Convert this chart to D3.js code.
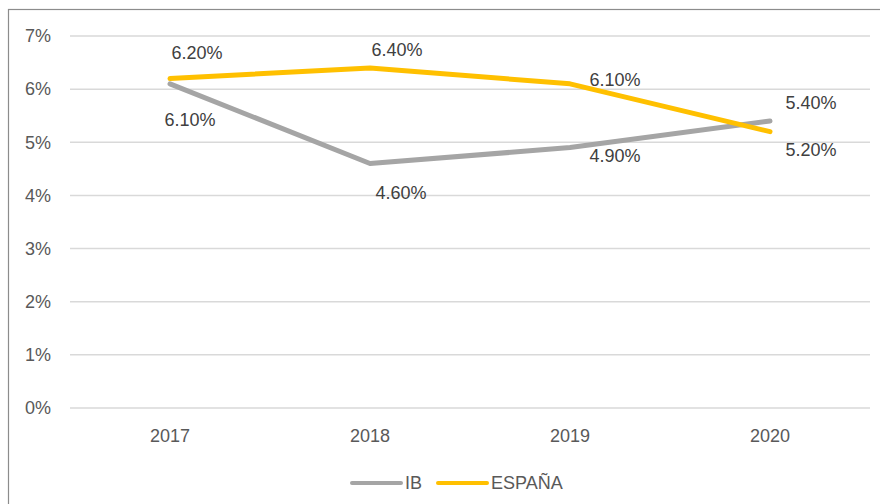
<!DOCTYPE html>
<html lang="es">
<head>
<meta charset="UTF-8">
<title>IB vs ESPAÑA</title>
<script src="https://d3js.org/d3.v7.min.js"></script>
<style>
    body { margin: 0; background: #fff; }
    svg { display: block; font-family: "Liberation Sans", Arial, sans-serif; }
    .grid line { stroke: #d9d9d9; stroke-width: 1.5px; }
    .tick-label { fill: #595959; font-size: 18px; }
    .data-label { fill: #404040; font-size: 18px; }
    .legend text { fill: #595959; font-size: 18px; }
</style>
</head>
<body>
<svg id="chart" width="880" height="504"></svg>
<script>
    // data
    const years = ["2017", "2018", "2019", "2020"];
    const ib = [6.1, 4.6, 4.9, 5.4];
    const espana = [6.2, 6.4, 6.1, 5.2];
    const yTicks = [0, 1, 2, 3, 4, 5, 6, 7];

    // label offsets (dx, dy) from each point
    const ibLabelPos = [[20, 36], [31, 29], [45, 8], [41, -18]];
    const espLabelPos = [[27, -26], [27, -18], [45, -4], [41, 18]];

    const series = [
        { name: "IB", values: ib, color: "#a5a5a5", labels: ibLabelPos },
        { name: "ESPAÑA", values: espana, color: "#ffc000", labels: espLabelPos }
    ];

    const svg = d3.select("#chart");

    // outer frame (right/bottom edges fall outside the picture)
    svg.append("rect")
        .attr("x", 8.5).attr("y", 9.5)
        .attr("width", 900).attr("height", 520)
        .attr("fill", "none")
        .attr("stroke", "#8c8c8c")
        .attr("stroke-width", 1.2);

    const plotLeft = 70, plotRight = 870, plotTop = 36, plotBottom = 408;

    const x = d3.scaleBand().domain(years).range([plotLeft, plotRight]);
    const y = d3.scaleLinear().domain([0, 7]).range([plotBottom, plotTop]);

    // gridlines
    svg.append("g").attr("class", "grid")
        .selectAll("line")
        .data(yTicks)
        .enter().append("line")
        .attr("x1", plotLeft).attr("x2", plotRight)
        .attr("y1", d => y(d)).attr("y2", d => y(d));

    // y labels
    svg.append("g")
        .selectAll("text")
        .data(yTicks)
        .enter().append("text")
        .attr("class", "tick-label")
        .attr("x", 51)
        .attr("y", d => y(d))
        .attr("dy", "0.35em")
        .attr("text-anchor", "end")
        .text(d => d + "%");

    // x labels
    svg.append("g")
        .selectAll("text")
        .data(years)
        .enter().append("text")
        .attr("class", "tick-label")
        .attr("x", d => x(d) + x.bandwidth() / 2)
        .attr("y", 436)
        .attr("dy", "0.35em")
        .attr("text-anchor", "middle")
        .text(d => d);

    const cx = i => x(years[i]) + x.bandwidth() / 2;

    const line = d3.line()
        .x((d, i) => cx(i))
        .y(d => y(d));

    // lines
    series.forEach(s => {
        svg.append("path")
            .datum(s.values)
            .attr("fill", "none")
            .attr("stroke", s.color)
            .attr("stroke-width", 5)
            .attr("stroke-linejoin", "round")
            .attr("stroke-linecap", "round")
            .attr("d", line);
    });

    // data labels
    series.forEach(s => {
        svg.append("g")
            .selectAll("text")
            .data(s.values)
            .enter().append("text")
            .attr("class", "data-label")
            .attr("x", (d, i) => cx(i) + s.labels[i][0])
            .attr("y", (d, i) => y(d) + s.labels[i][1])
            .attr("dy", "0.35em")
            .attr("text-anchor", "middle")
            .text(d => d.toFixed(2) + "%");
    });

    // legend
    const legend = svg.append("g").attr("class", "legend");
    const legendX = [352, 438];
    series.forEach((s, i) => {
        const g = legend.append("g").attr("transform", `translate(${legendX[i]},483)`);
        g.append("line")
            .attr("x1", 0).attr("x2", 49)
            .attr("stroke", s.color)
            .attr("stroke-width", 4)
            .attr("stroke-linecap", "round");
        g.append("text")
            .attr("x", 53)
            .attr("dy", "0.35em")
            .text(s.name);
    });
</script>
</body>
</html>
